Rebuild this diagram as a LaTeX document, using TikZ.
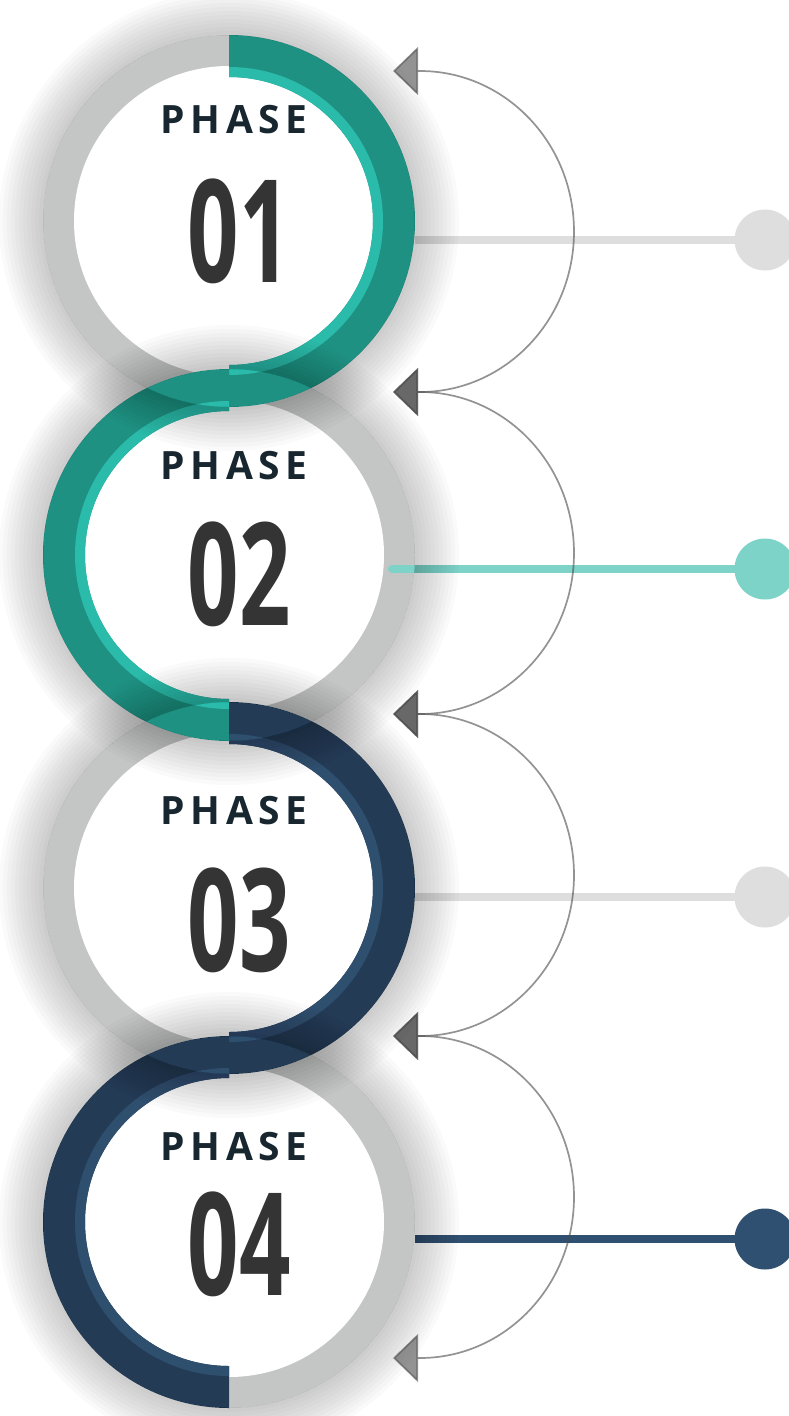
\documentclass[tikz,border=0pt]{standalone}
\usepackage{fontspec}
\setmainfont{Open Sans}
\newfontfamily\phasefont[LetterSpace=14]{Open Sans}
\usetikzlibrary{arrows.meta}
\definecolor{tealD}{HTML}{1F9183}
\definecolor{tealL}{HTML}{2ABBAA}
\definecolor{navyD}{HTML}{243B55}
\definecolor{navyL}{HTML}{2F4F6F}
\definecolor{ringgray}{HTML}{C4C6C5}
\definecolor{linkgray}{HTML}{DEDEDE}
\definecolor{linkteal}{HTML}{7DD3C8}
\definecolor{linknavy}{HTML}{2F5070}
\definecolor{phasetext}{HTML}{182630}
\definecolor{numtext}{HTML}{343434}
\definecolor{arrowgray}{HTML}{4B4B4B}
\newcommand\pRing[6]{\fill[#6] (#1) ++(#2:#5) arc[start angle=#2,end angle=#3,radius=#5] -- ++({#3+180}:{#5-#4}) arc[start angle=#3,end angle=#2,radius=#4] -- cycle;}
\begin{document}
\begin{tikzpicture}[x=1pt,y=1pt,
  phase/.style={font=\phasefont\bfseries\fontsize{39}{39}\selectfont, text=phasetext, inner sep=0pt, anchor=base},
  num/.style={font=\bfseries\fontsize{143}{143}\selectfont, text=numtext, inner sep=0pt, anchor=base},
  link/.style={line width=8pt},
  dot/.style={circle, minimum size=61pt, inner sep=0pt},
  disc/.style={circle, fill=white, minimum size=310pt, inner sep=0pt},
  loop/.style={draw=arrowgray, opacity=0.6, line width=1.7pt, {Triangle[length=25pt,width=48pt]}-{Triangle[length=25pt,width=48pt]}}
]
\useasboundingbox (0,0) rectangle (789,-1416);
\clip (0,0) rectangle (789,-1416);
\coordinate (c1) at (229,-221);
\coordinate (c2) at (229,-555);
\coordinate (c3) at (229,-888);
\coordinate (c4) at (229,-1222);
% gray rings and white discs
\foreach \c in {c1,c2,c3,c4}{
  \fill[ringgray] (\c) circle[radius=186];
}
\node[disc] (d1) at (c1) {};
\node[disc] (d2) at (c2) {};
\node[disc] (d3) at (c3) {};
\node[disc] (d4) at (c4) {};
% connectors and dots
\coordinate (s1) at (415,-240);
\coordinate (s2) at (392,-569);
\coordinate (s3) at (415,-897);
\coordinate (s4) at (415,-1239);
\node[dot, fill=linkgray] (g1) at (765,-240) {};
\node[dot, fill=linkteal] (g2) at (765,-569) {};
\node[dot, fill=linkgray] (g3) at (765,-897) {};
\node[dot, fill=linknavy] (g4) at (765,-1239) {};
\draw[link, linkgray] (s1) -- (g1.center);
\draw[link, linkteal, line cap=round] (s2) -- (g2.center);
\draw[link, linkgray] (s3) -- (g3.center);
\draw[link, linknavy] (s4) -- (g4.center);
% coloured half rings
\pRing{c1}{90}{-90}{144}{186}{tealD}
\pRing{c1}{90}{-90}{144}{154}{tealL}
\pRing{c2}{90}{270}{144}{186}{tealD}
\pRing{c2}{90}{270}{144}{154}{tealL}
\pRing{c3}{90}{-90}{144}{186}{navyD}
\pRing{c3}{90}{-90}{144}{154}{navyL}
\pRing{c4}{90}{270}{144}{186}{navyD}
\pRing{c4}{90}{270}{144}{154}{navyL}
% soft shadows
\foreach \c in {c1,c2,c3,c4}{
  \foreach \r in {190,194,...,230}{
    \fill[black, opacity=0.019, even odd rule] (\c) circle[radius=\r] (\c) circle[radius=186];
  }
}
% loop arrows
\coordinate (t0) at (393,-71);
\coordinate (t1) at (393,-392);
\coordinate (t2) at (393,-714);
\coordinate (t3) at (393,-1036);
\coordinate (t4) at (393,-1358);
\draw[loop] (t0) -- ++(27,0) arc[start angle=90,end angle=-90,x radius=154,y radius=160.5] -- (t1);
\draw[loop] (t1) -- ++(27,0) arc[start angle=90,end angle=-90,x radius=154,y radius=161] -- (t2);
\draw[loop] (t2) -- ++(27,0) arc[start angle=90,end angle=-90,x radius=154,y radius=161] -- (t3);
\draw[loop] (t3) -- ++(27,0) arc[start angle=90,end angle=-90,x radius=154,y radius=161] -- (t4);
% texts
\node[phase] (p1) at (234,-133) {PHASE};
\node[phase] (p2) at (234,-479) {PHASE};
\node[phase] (p3) at (234,-824) {PHASE};
\node[phase] (p4) at (234,-1160) {PHASE};
\node[num] (n1) at (239,-282) {\scalebox{0.63}[1]{01}};
\node[num] (n2) at (239,-625) {\scalebox{0.63}[1]{02}};
\node[num] (n3) at (239,-971) {\scalebox{0.63}[1]{03}};
\node[num] (n4) at (239,-1295) {\scalebox{0.63}[1]{04}};
\end{tikzpicture}
\end{document}
